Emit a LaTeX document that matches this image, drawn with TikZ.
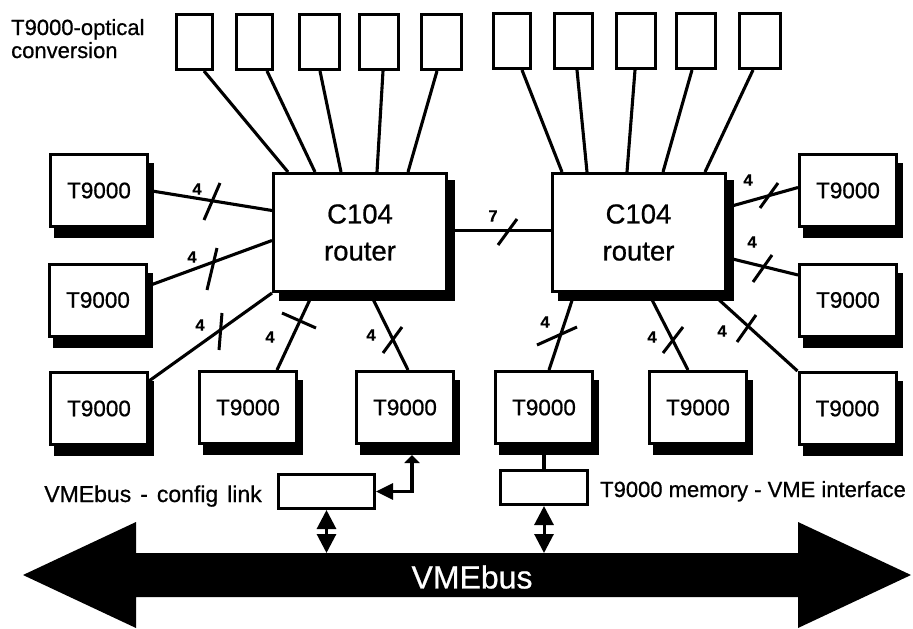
\documentclass[tikz,border=0pt]{standalone}
\usepackage{fontspec}
\setmainfont{Liberation Sans}[FakeBold=0.7]
\usetikzlibrary{calc,arrows.meta}
\pgfdeclarelayer{background}
\pgfsetlayers{background,main}
\tikzset{
  box/.style={draw, line width=3pt, fill=white, inner sep=0pt},
  opt/.style={box, minimum height=55pt},
  tnode/.style={box, minimum width=97pt, minimum height=72pt,
    font=\fontsize{22.5}{24}\selectfont},
  router/.style={box, minimum width=173pt, minimum height=118pt, align=center,
    font=\fontsize{27.5}{37}\selectfont},
  smallbox/.style={box},
  link/.style={line width=3.1pt},
  slashmark/.style={line width=3pt},
  num/.style={font=\fontsize{16.5}{16.5}\selectfont\bfseries, inner sep=0pt},
  lab/.style={font=\fontsize{22}{24}\selectfont, inner sep=0pt},
  dbl/.style={line width=3pt, {Triangle[length=19pt,width=19pt]}-{Triangle[length=19pt,width=19pt]}},
}
\begin{document}
\begin{tikzpicture}[x=1pt,y=-1pt]
\useasboundingbox (0,0) rectangle (913,629);

% bus
\fill[black] (23,575) -- (136,522) -- (136,553) -- (798,553) -- (798,522)
  -- (911,575) -- (798,628) -- (798,597) -- (136,597) -- (136,628) -- cycle;
\node[font=\fontsize{32}{32}\selectfont, text=white, inner sep=0pt] (vme) at (472,577) {VMEbus};
\coordinate (busA) at (326.5,553);
\coordinate (busB) at (544,553);

% optical boxes
\node[opt, minimum width=36pt] (o1) at (194,42) {};
\node[opt, minimum width=36pt] (o2) at (254,42) {};
\node[opt, minimum width=40pt] (o3) at (319,42) {};
\node[opt, minimum width=39pt] (o4) at (379,42) {};
\node[opt, minimum width=40pt] (o5) at (441,42) {};
\node[opt, minimum width=37pt] (o6) at (512,41) {};
\node[opt, minimum width=38pt] (o7) at (573.5,41) {};
\node[opt, minimum width=39pt] (o8) at (636,41) {};
\node[opt, minimum width=39pt] (o9) at (696,41) {};
\node[opt, minimum width=41pt] (o10) at (759.5,41) {};

\node[lab, anchor=base west] (optl1) at (11,35) {T9000-optical};
\node[lab, anchor=base west] (optl2) at (11,58) {conversion};

% routers
\node[router] (rA) at (360,232.5) {C104\\router};
\node[router] (rB) at (638.5,232.5) {C104\\router};

% T9000 nodes
\node[tnode] (L1) at (99,190.5) {T9000};
\node[tnode] (L2) at (98,300) {T9000};
\node[tnode] (L3) at (99,408.5) {T9000};
\node[tnode] (B1) at (248,407.5) {T9000};
\node[tnode] (B2) at (405,407.5) {T9000};
\node[tnode] (BR1) at (544,407.5) {T9000};
\node[tnode] (BR2) at (698,407.5) {T9000};
\node[tnode] (R1) at (848,190.5) {T9000};
\node[tnode] (R2) at (848,300) {T9000};
\node[tnode] (R3) at (847.5,408.5) {T9000};

% shadows
\begin{pgfonlayer}{background}
\foreach \n in {L1,L2,L3,B1,B2,BR1,BR2,R1,R2,R3}
  \fill[black] ([shift={(5pt,-10pt)}]\n.south west) rectangle ([shift={(5pt,-10pt)}]\n.north east);
\foreach \n in {rA,rB}
  \fill[black] ([shift={(7pt,-8pt)}]\n.south west) rectangle ([shift={(7pt,-8pt)}]\n.north east);
\end{pgfonlayer}

% optical links
\draw[link] ($(o1.south)+(10,0)$) -- ($(rA.north)+(-72,0)$);
\draw[link] ($(o2.south)+(13,0)$) -- ($(rA.north)+(-45,0)$);
\draw[link] ($(o3.south)+(1,0)$) -- ($(rA.north)+(-19,0)$);
\draw[link] ($(o4.south)+(4,0)$) -- ($(rA.north)+(17,0)$);
\draw[link] ($(o5.south)+(-4,0)$) -- ($(rA.north)+(48,0)$);
\draw[link] ($(o6.south)+(10,0)$) -- ($(rB.north)+(-76.5,0)$);
\draw[link] ($(o7.south)+(3.5,0)$) -- ($(rB.north)+(-51.5,0)$);
\draw[link] ($(o8.south)+(-1,0)$) -- ($(rB.north)+(-11.5,0)$);
\draw[link] ($(o9.south)+(-4,0)$) -- ($(rB.north)+(24.5,0)$);
\draw[link] ($(o10.south)+(-6.5,0)$) -- ($(rB.north)+(66.5,0)$);

% T9000 links
\draw[link] (L1.east) -- ($(rA.west)+(0,-22)$);
\draw[link] ($(L2.east)+(0,-14)$) -- ($(rA.west)+(0,8)$);
\draw[link] ($(L3.north east)+(0,10)$) -- (rA.south west);
\draw[link] ($(B1.north)+(29,0)$) -- ($(rA.south)+(-47,0)$);
\draw[link] ($(B2.north)+(3,0)$) -- ($(rA.south)+(10,0)$);
\draw[link] ($(rA.east)+(0,-2)$) -- ($(rB.west)+(0,-2)$);
\draw[link] ($(rB.east)+(0,-25)$) -- ($(R1.west)+(0,-3)$);
\draw[link] ($(rB.east)+(0,25)$) -- ($(R2.west)+(0,-25)$);
\draw[link] ($(rB.south east)+(-15,0)$) -- (R3.north west);
\draw[link] ($(rB.south)+(-64,0)$) -- ($(BR1.north)+(5,0)$);
\draw[link] ($(rB.south)+(10,0)$) -- ($(BR2.north)+(-10,0)$);

% slash marks
\draw[slashmark] (204,220) -- (220,183);
\draw[slashmark] (207,290) -- (217,248);
\draw[slashmark] (219,350) -- (222,313);
\draw[slashmark] (282,313) -- (316,328);
\draw[slashmark] (383,353) -- (402,327);
\draw[slashmark] (498,245) -- (517,219);
\draw[slashmark] (760,208) -- (778,183);
\draw[slashmark] (753,282) -- (772,255);
\draw[slashmark] (737,342) -- (756,315);
\draw[slashmark] (537,345) -- (577,327);
\draw[slashmark] (663,353) -- (683,327);

% width labels
\node[num] (n1) at (197,189) {4};
\node[num] (n2) at (192,257) {4};
\node[num] (n3) at (200,325) {4};
\node[num] (n4) at (270,337) {4};
\node[num] (n5) at (371,335) {4};
\node[num] (n6) at (493,216) {7};
\node[num] (n7) at (748,180) {4};
\node[num] (n8) at (752,242) {4};
\node[num] (n9) at (722,331) {4};
\node[num] (n10) at (545,322) {4};
\node[num] (n11) at (652,337) {4};

% VME interface boxes
\node[smallbox, minimum width=96pt, minimum height=34pt] (cfg) at (326.5,491.5) {};
\node[smallbox, minimum width=87pt, minimum height=34pt] (ifc) at (544,487.5) {};
\node[lab, font=\fontsize{23}{24}\selectfont, anchor=base east] (cfgl) at (262,502) {VMEbus\hspace{9pt}-\hspace{9pt}config\hspace{9pt}link};
\node[lab, anchor=base west] (ifcl) at (600,497) {T9000 memory - VME interface};

\draw[link, {Triangle[length=8pt,width=15pt]}-{Triangle[length=17pt,width=16pt]}]
  ($(B2.south)+(7,10)$) |- (cfg.east);
\draw[line width=3.5pt] (BR1.south) -- (ifc.north);
\draw[dbl] (cfg.south) -- (busA);
\draw[dbl] (ifc.south) -- (busB);
\end{tikzpicture}
\end{document}
